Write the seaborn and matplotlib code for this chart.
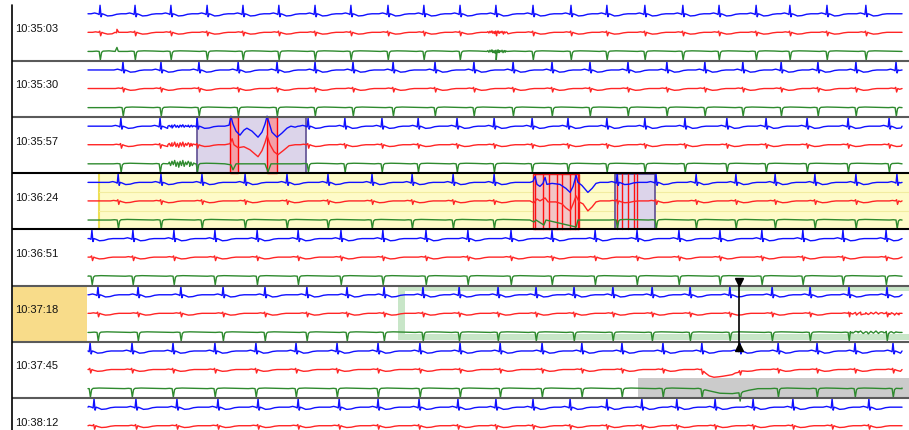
import numpy as np
import pandas as pd
import matplotlib
matplotlib.use("Agg")
import matplotlib.pyplot as plt
import seaborn as sns
from matplotlib.patches import Rectangle

sns.set_theme(style="white")
plt.rcParams['font.family'] = ['Liberation Sans', 'DejaVu Sans']

# ---------------- data ----------------
row_labels = ["10:35:03", "10:35:30", "10:35:57", "10:36:24",
              "10:36:51", "10:37:18", "10:37:45", "10:38:12"]
leads = ["I", "II", "III"]
lead_colors = {"I": "#1010ff", "II": "#ff2525", "III": "#2e8a2e"}

# R-peak times (s) within each 27 s strip
beats_r0 = [0.40, 1.56, 2.75, 3.95, 5.14, 6.33, 7.53, 8.72, 9.95, 11.14, 12.34, 13.53,
            14.76, 16.02, 17.21, 18.47, 19.73, 20.93, 22.16, 23.28, 24.51, 25.80]
beats_r1 = [1.16, 2.42, 3.68, 4.98, 6.27, 7.53, 8.79, 10.12, 11.51, 12.80, 14.10, 15.39,
            16.65, 17.91, 19.20, 20.46, 21.72, 22.99, 24.21, 25.47, 26.80]
beats_r2 = [1.09, 2.39, 3.62, 7.30, 8.52, 9.75, 10.95, 12.24, 13.47, 14.73, 15.92, 17.21,
            18.47, 19.80, 21.19, 22.49, 23.85, 25.21, 26.57]
beats_r3 = [1.00, 2.42, 3.78, 5.21, 6.60, 7.96, 9.42, 10.75, 12.11, 13.47, 17.55, 18.84,
            20.17, 21.49, 22.79, 24.11, 25.47, 26.83]
beats_r4 = [0.13, 1.49, 2.85, 4.21, 5.61, 6.97, 8.39, 9.78, 11.21, 12.60, 14.03, 15.39,
            16.82, 18.21, 19.60, 20.96, 22.35, 23.71, 25.04, 26.47]
beats_r5 = [0.33, 1.66, 3.08, 4.48, 5.87, 7.26, 8.59, 9.82, 11.11, 12.31, 13.60, 14.86,
            16.12, 17.41, 18.71, 19.97, 21.29, 22.69, 23.95, 25.24, 26.50]
beats_r6 = [0.07, 1.46, 2.82, 4.21, 5.57, 6.90, 8.26, 9.62, 11.01, 12.34, 13.67, 15.06,
            16.38, 17.71, 19.07, 20.36, 21.62, 22.89, 24.18, 25.44, 26.70]
beats_r7 = [0.20, 1.59, 2.95, 4.31, 5.64, 6.97, 8.33, 9.62, 10.98, 12.27, 13.53, 14.76,
            15.99, 17.21, 18.37, 19.53, 20.80, 22.06, 23.38, 24.68, 25.90]
beat_times = [beats_r0, beats_r1, beats_r2, beats_r3, beats_r4, beats_r5, beats_r6, beats_r7]

# one-beat waveform per lead: offset from R peak (s), amplitude (px, up = +)
tmpl_t = {"I":   [-0.30, -0.18, -0.08, -0.03, 0.00, 0.035, 0.07, 0.12, 0.25, 0.40, 0.55, 0.70],
          "II":  [-0.25, -0.15, -0.05, -0.01, 0.02, 0.06, 0.12, 0.25, 0.40, 0.55, 0.70],
          "III": [-0.25, -0.12, -0.03, 0.01, 0.05, 0.10, 0.30, 0.60]}
tmpl_a = {"I":   [0, 0.8, 0, -0.8, 8.5, -3, 0, -0.5, -2.2, -1.8, -0.5, 0],
          "II":  [0, 0.5, 0, 1.2, -3.5, 0, -0.8, -1.8, -1.5, -0.5, 0],
          "III": [0, 0.3, 0, -8.5, -1, 0.3, 0.6, 0.4]}

# hand-read irregular stretches: (row, lead, times, amplitudes)
custom_segments = [
    (2, "I", [4.54, 4.68, 4.74, 4.81, 4.91, 5.04, 5.17, 5.27, 5.44, 5.64, 5.77, 5.87, 5.94, 6.00,
              6.10, 6.27, 6.43, 6.60, 6.73, 6.87, 6.97],
             [0, 1, 10, 2, -5, -9, -4, -2, -5, -11, -6, 2, 10, 4, -6, -11, -7, -2, 0, -1, 0]),
    (2, "II", [4.54, 4.71, 4.78, 4.84, 4.98, 5.17, 5.37, 5.64, 5.77, 5.87, 5.94, 6.04, 6.17, 6.30,
               6.47, 6.67, 6.87],
              [0, 1, 6, 0, -3, -2, -5, -12, -6, 2, 9, 0, -7, -10, -6, -1, 0]),
    (2, "III", [4.54, 4.74, 4.81, 4.91, 5.87, 5.97, 6.07, 6.97],
               [0, -1, -6, 0, 0, -8, 0, 0]),
    (3, "I", [14.66, 14.76, 14.83, 14.89, 14.99, 15.09, 15.16, 15.22, 15.39, 15.65, 15.85, 15.99,
              16.09, 16.19, 16.25, 16.38, 16.58, 16.72, 16.85, 16.98],
             [0, 1, 6, -2, -4, -1, 5, -2, -1, -2, -6, -10, -4, 7, 0, -3, -10, -6, -1, 0]),
    (3, "II", [14.66, 14.79, 14.89, 14.99, 15.16, 15.26, 15.52, 15.72, 15.85, 15.99, 16.09, 16.19,
               16.29, 16.42, 16.58, 16.72, 16.85, 16.98],
              [0, -2, 2, 0, 3, -1, -1, -3, -7, -10, -3, 5, -1, -3, -10, -6, -1, 0]),
    (3, "III", [14.66, 14.79, 14.86, 15.12, 15.19, 16.19, 16.25, 16.98],
               [0, -2, 0, -5, 0, -7, 0, 0]),
    (0, "II", [0.90, 0.96, 1.02], [0, 3, 0]),
    (0, "III", [0.90, 0.96, 1.02], [0, 4, 0]),
]

# muscle-noise bursts: (row, lead, start, end, scale)
noise_pattern = [0, 1, -1, 1.5, -0.5, 2, -1.5, 1, -2, 1.5, -1, 2, -1.5, 1, -0.5, 1.5, -1.5, 1, -1, 0.5, 0]
noise_segments = [
    (2, "I", 2.65, 3.55, 0.7), (2, "II", 2.65, 3.55, 1.3), (2, "III", 2.65, 3.55, 1.7),
    (0, "II", 13.23, 13.90, 0.7), (0, "III", 13.23, 13.90, 0.8),
    (5, "II", 25.20, 26.90, 0.6), (5, "III", 25.20, 26.90, 0.7),
]

# baseline wander (row, lead, times, offsets px)
wander = [
    (6, "II", [20.30, 20.50, 20.70, 20.96, 21.29, 21.56, 21.79], [0, -3, -6, -7, -6, -3, 0]),
    (6, "III", [20.30, 20.63, 20.96, 21.46, 21.79, 22.29], [0, -3, -5, -5, -3, 0]),
]

# annotation regions (seconds)
artifact_box_r2 = (3.62, 7.23)
red_bands_r2 = [(4.71, 4.98), (5.94, 6.27)]
yellow_start_r3 = 0.365
red_region_r3 = (14.76, 16.29)
red_lines_r3 = [14.83, 15.09, 15.29, 15.56, 15.72, 15.99, 16.16, 16.25]
artifact_box_r3 = (17.48, 18.81)
red_lines_box_r3 = [17.55, 17.71, 17.91, 18.11, 18.21]
bracket_r5_start = 10.28
caliper_t = 21.59
gray_r6_start = 18.24

# ---------------- layout helpers ----------------
PX_ORIGIN, PX_PER_S = 88.0, 30.15
ROW_TOP0, ROW_H = 5.5, 56.2
T_END = 27.0
base = {"I": 0.165, "II": 0.495, "III": 0.835}


def tx(px):
    return (px - PX_ORIGIN) / PX_PER_S


def yu(py):
    return (py - ROW_TOP0) / ROW_H


X0, X1 = tx(0), tx(909)
Y0, Y1 = yu(0), yu(431)

# ---------------- build traces ----------------
frames = []
for r in range(len(row_labels)):
    for lead in leads:
        ts = [0.0, T_END]
        am = [0.0, 0.0]
        for b in beat_times[r]:
            ts += [b + d for d in tmpl_t[lead]]
            am += list(tmpl_a[lead])
        for (rr, ll, ct, ca) in custom_segments:
            if rr == r and ll == lead:
                ts += ct
                am += ca
        for (rr, ll, t0, t1, sc) in noise_segments:
            if rr == r and ll == lead:
                ts += list(np.linspace(t0, t1, len(noise_pattern)))
                am += [sc * v for v in noise_pattern]
        ts = np.array(ts)
        am = np.array(am, dtype=float)
        keep = (ts >= 0) & (ts <= T_END)
        ts, am = ts[keep], am[keep]
        order = np.argsort(ts, kind="stable")
        ts, am = ts[order], am[order]
        for (rr, ll, wt, wa) in wander:
            if rr == r and ll == lead:
                am = am + np.interp(ts, wt, wa, left=0, right=0)
        y = r + base[lead] - am / ROW_H
        frames.append(pd.DataFrame({"t": ts, "y": y, "lead": lead, "row": r}))
df = pd.concat(frames, ignore_index=True)

# ---------------- draw ----------------
fig = plt.figure(figsize=(9.09, 4.31), dpi=100)
ax = fig.add_axes([0, 0, 1, 1])
ax.set_axis_off()

# backgrounds
ax.add_patch(Rectangle((tx(12.5), 5), tx(87.5) - tx(12.5), 1, fc="#f8dc8a", ec="none", zorder=0))
ax.add_patch(Rectangle((yellow_start_r3, 3), X1 - yellow_start_r3, 1, fc="#fefbc8", ec="none", zorder=0))
ax.plot([yellow_start_r3, yellow_start_r3], [3, 4], color="#eedf55", lw=1.5, zorder=0.5)
for yy in (3.34, 3.68):
    ax.plot([yellow_start_r3, X1], [yy, yy], color="#f2eca0", lw=0.8, zorder=0.5)

# row 2 artifact box
ax.add_patch(Rectangle((artifact_box_r2[0], 2.01), artifact_box_r2[1] - artifact_box_r2[0], 0.98,
                       fc="#dcd4ea", ec="#5e4e92", lw=1.2, zorder=1))
for a, b in red_bands_r2:
    ax.add_patch(Rectangle((a, 2.01), b - a, 0.98, fc="#f3a0a8", ec="#ff0000", lw=1.0, zorder=1.2))

# row 3 marked regions
ax.add_patch(Rectangle((red_region_r3[0], 3.01), red_region_r3[1] - red_region_r3[0], 0.98,
                       fc="#f2c6c6", ec="#e82020", lw=1.0, zorder=1))
for xl in red_lines_r3:
    ax.plot([xl, xl], [3.01, 3.99], color="#ff1010", lw=1.0, zorder=1.1)
ax.add_patch(Rectangle((artifact_box_r3[0], 3.01), artifact_box_r3[1] - artifact_box_r3[0], 0.98,
                       fc="#dcd4ea", ec="#5e4e92", lw=1.2, zorder=1))
for xl in red_lines_box_r3:
    ax.plot([xl, xl], [3.01, 3.99], color="#ff1010", lw=1.0, zorder=1.1)

# row 5 green bracket
gc = "#c8e6c8"
ax.add_patch(Rectangle((bracket_r5_start, yu(287)), tx(405) - tx(398), yu(341) - yu(287),
                       fc=gc, ec="none", zorder=1))
ax.add_patch(Rectangle((bracket_r5_start, yu(287)), X1 - bracket_r5_start, yu(292) - yu(287),
                       fc=gc, ec="none", zorder=1))
ax.add_patch(Rectangle((bracket_r5_start, yu(335)), X1 - bracket_r5_start, yu(341) - yu(335),
                       fc=gc, ec="none", zorder=1))

# row 6 gray region
ax.add_patch(Rectangle((gray_r6_start, yu(379)), X1 - gray_r6_start, yu(398) - yu(379),
                       fc="#cbcbcb", ec="none", zorder=1))

# traces
sns.lineplot(data=df, x="t", y="y", hue="lead", units="row", estimator=None, sort=False,
             palette=lead_colors, hue_order=leads, legend=False, linewidth=1.0, ax=ax, zorder=3)

# separators and left border
for i in range(1, len(row_labels)):
    col = "#000000" if i in (3, 4) else "#5a5a5a"
    ax.plot([tx(12), X1], [i, i], color=col, lw=1.5, zorder=4, solid_capstyle="butt")
ax.plot([tx(12), tx(12)], [yu(6), Y1], color="#000000", lw=1.2, zorder=4)

# row labels
for i, lab in enumerate(row_labels):
    ax.text(tx(15), i + 0.42, lab, ha="left", va="center", fontsize=8, color="#111111", zorder=5)

# caliper
ax.plot([caliper_t, caliper_t], [yu(281), yu(349)], color="black", lw=1.2, zorder=6)
ax.plot([caliper_t], [yu(282.5)], marker="v", color="black", markersize=6, zorder=6)
ax.plot([caliper_t], [yu(347.5)], marker="^", color="black", markersize=6, zorder=6)

ax.set_xlim(X0, X1)
ax.set_ylim(Y1, Y0)
ax.set_xlabel("")
ax.set_ylabel("")

fig.savefig("out.png", dpi=100)
